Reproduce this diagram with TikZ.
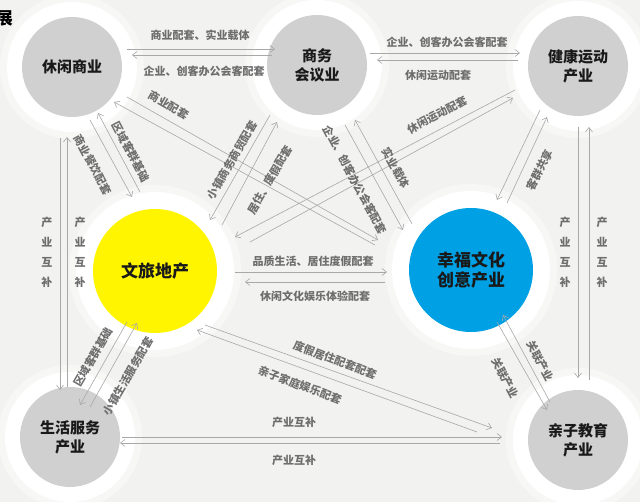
\documentclass[tikz,border=0pt]{standalone}
\usepackage{fontspec}
\newfontfamily\cjk{Noto Sans CJK SC}
\usetikzlibrary{calc,arrows.meta}

\definecolor{paper}{HTML}{F2F2F0}
\definecolor{hubgray}{HTML}{D0D0D0}
\definecolor{estyellow}{HTML}{FFF500}
\definecolor{cultblue}{HTML}{00A0E4}
\definecolor{linkgray}{HTML}{A8A8A8}
\definecolor{taggray}{HTML}{6E6E6E}

\begin{document}
\begin{tikzpicture}[x=1pt, y=-1pt,
	ball/.style={circle, inner sep=0pt, align=center, text=black!90},
	hub/.style={ball, minimum size=100pt, fill=hubgray,
		font=\cjk\bfseries\fontsize{15}{19}\selectfont,
		preaction={draw=white, draw opacity=.45, line width=44pt},
		preaction={draw=white, line width=30pt}},
	bighub/.style={ball, minimum size=124pt, fill=#1,
		font=\cjk\bfseries\fontsize{17}{20}\selectfont,
		preaction={draw=white, draw opacity=.45, line width=48pt},
		preaction={draw=white, line width=34pt}},
	link/.style={draw=linkgray, line width=.6pt, -{Straight Barb[length=4.5pt,width=7pt]}},
	tag/.style={font=\cjk\bfseries\fontsize{11}{13}\selectfont, text=taggray, inner sep=1pt}]

	% frame
	\useasboundingbox (0,0) rectangle (640,502);
	\fill[paper] (0,0) rectangle (640,502);

	% hubs
	\node[hub] (L) at (72,67) {休闲商业};
	\node[hub] (B) at (317,65) {商务\\会议业};
	\node[hub] (H) at (578,66) {健康运动\\产业};
	\node[bighub=estyellow] (E) at (155,271) {文旅地产};
	\node[bighub=cultblue] (C) at (471,270) {幸福文化\\创意产业};
	\node[hub] (S) at (70,437) {生活服务\\产业};
	\node[hub] (F) at (578,440) {亲子教育\\产业};

	\node[anchor=east, inner sep=0pt, font=\cjk\bfseries\fontsize{17}{17}\selectfont] (title) at (13,18) {展};

	% links, top row
	\draw[link] ($(L)+(55,-18)$) -- ($(B)+(-42,-16)$);
	\draw[link] ($(B)+(-45,-10)$) -- ($(L)+(60,-12)$);
	\draw[link] ($(B)+(53,-12)$) -- ($(H)+(-58,-13)$);
	\draw[link] ($(H)+(-60,-6)$) -- ($(B)+(60,-5)$);

	% links, sides
	\draw[link] ($(L)+(-12,71)$) -- ($(S)+(-10,-47)$);
	\draw[link] ($(S)+(-3,-50)$) -- ($(L)+(-5,70)$);
	\draw[link] ($(H)+(0,61)$) -- ($(F)+(0,-62)$);
	\draw[link] ($(F)+(11,-60)$) -- ($(H)+(11,61)$);

	% links, diagonals
	\draw[link] ($(L)+(18,53)$) -- ($(E)+(-23,-74)$);
	\draw[link] ($(E)+(-15,-79)$) -- ($(L)+(26,46)$);
	\draw[link] ($(L)+(55,30)$) -- ($(C)+(-93,-30)$);
	\draw[link] ($(C)+(-96,-25)$) -- ($(L)+(42,35)$);
	\draw[link] ($(B)+(-47,50)$) -- ($(E)+(55,-51)$);
	\draw[link] ($(E)+(67,-46)$) -- ($(B)+(-40,57)$);
	\draw[link] ($(B)+(28,60)$) -- ($(C)+(-68,-40)$);
	\draw[link] ($(C)+(-59,-46)$) -- ($(B)+(38,55)$);
	\draw[link] ($(H)+(-63,24)$) -- ($(E)+(80,-34)$);
	\draw[link] ($(E)+(95,-29)$) -- ($(H)+(-65,32)$);
	\draw[link] ($(H)+(-38,44)$) -- ($(C)+(26,-70)$);
	\draw[link] ($(C)+(36,-67)$) -- ($(H)+(-31,51)$);

	% links, middle and bottom
	\draw[link] ($(E)+(80,1)$) -- ($(C)+(-84,2)$);
	\draw[link] ($(C)+(-86,12)$) -- ($(E)+(90,11)$);
	\draw[link] ($(E)+(-28,51)$) -- ($(S)+(10,-32)$);
	\draw[link] ($(S)+(20,-30)$) -- ($(E)+(-18,52)$);
	\draw[link] ($(C)+(26,52)$) -- ($(F)+(-31,-30)$);
	\draw[link] ($(F)+(-28,-38)$) -- ($(C)+(32,45)$);
	\draw[link] ($(E)+(50,54)$) -- ($(F)+(-86,-12)$);
	\draw[link] ($(F)+(-101,-8)$) -- ($(E)+(42,59)$);
	\draw[link] ($(S)+(52,0)$) -- ($(F)+(-76,-3)$);
	\draw[link] ($(F)+(-78,3)$) -- ($(S)+(50,6)$);

	% labels
	\node[tag] (tLB1) at (200,35) {商业配套、实业载体};
	\node[tag] (tLB2) at (204,71) {企业、创客办公会客配套};
	\node[tag] (tBH1) at (447,42) {企业、创客办公会客配套};
	\node[tag] (tBH2) at (438,75) {休闲运动配套};
	\node[tag, rotate=-62] (tLE1) at (93,165) {商业餐饮配套};
	\node[tag, rotate=-62] (tLE2) at (131,152) {区域客群基础};
	\node[tag, rotate=-30] (tLC) at (169,105) {商业配套};
	\node[tag, rotate=60] (tBE1) at (232,160) {小镇商务商贸配套};
	\node[tag, rotate=60] (tBE2) at (270,180) {居住、度假配套};
	\node[tag, rotate=-62] (tBC1) at (355,180) {企业、创客办公会客配套};
	\node[tag, rotate=-61] (tBC2) at (396,168) {实业载体};
	\node[tag, rotate=28] (tHE) at (437,115) {休闲运动配套};
	\node[tag, rotate=63] (tHC) at (540,170) {客群共享};
	\node[tag] (tEC1) at (313,261) {品质生活、居住度假配套};
	\node[tag] (tEC2) at (315,296) {休闲文化娱乐体验配套};
	\node[tag, rotate=60] (tES1) at (93,357) {区域客群基础};
	\node[tag, rotate=60] (tES2) at (128,376) {小镇生活服务配套};
	\node[tag, rotate=-21] (tEF1) at (335,360) {度假居住配套配套};
	\node[tag, rotate=-21] (tEF2) at (300,385) {亲子家庭娱乐配套};
	\node[tag, rotate=-62] (tCF1) at (505,378) {关联产业};
	\node[tag, rotate=-62] (tCF2) at (540,361) {关联产业};
	\node[tag] (tSF1) at (294,422) {产业互补};
	\node[tag] (tSF2) at (294,460) {产业互补};

	% stacked labels
	\foreach \x in {47,80,565,602} {
		\foreach \ch [count=\k] in {产,业,互,补} {
			\node[tag] (v\x-\k) at (\x,{202+20*\k}) {\ch};
		}
	}

\end{tikzpicture}
\end{document}
